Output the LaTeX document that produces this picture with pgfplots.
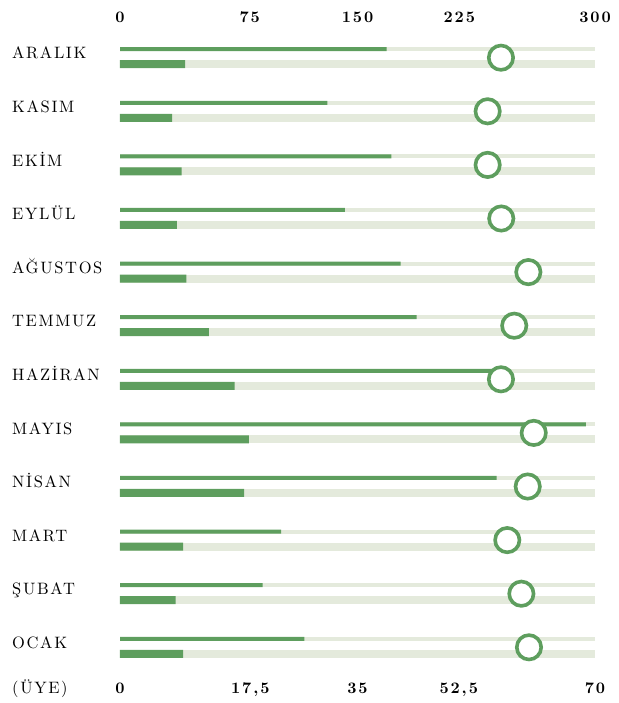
\documentclass[border=0pt]{standalone}
\usepackage{fontspec}
\usepackage{pgfplots}
\usepackage{pgfplotstable}
\pgfplotsset{compat=1.18}

\definecolor{grn}{HTML}{5E9E5E}
\definecolor{track}{HTML}{E4EADC}

\newfontfamily\labfam{lmroman10-regular.otf}[LetterSpace=10]
\newfontfamily\tickfam{lmroman10-bold.otf}[LetterSpace=12]
\newcommand\labfont{\labfam\fontsize{16.5}{19}\selectfont}
\newcommand\tickfont{\tickfam\fontsize{16}{19}\selectfont}

% row 0 = Aralik (top) ... row 11 = Ocak (bottom)
\pgfplotstableread{
row thin  thick circ
0   168.4 9.6   240.6
1   130.9 7.7   232.2
2   171.4 9.1   232.2
3   142.1 8.4   240.8
4   177.3 9.8   257.9
5   187.4 13.1  249.0
6   238.0 16.9  240.6
7   294.3 19.0  261.3
8   237.9 18.3  257.5
9   101.7 9.3   244.6
10  90.1  8.2   253.5
11  116.4 9.3   258.3
}\data

\pgfplotsset{rowaxis/.style={
  width=475pt, height=643.2pt, scale only axis, at={(0,0)}, anchor=south west,
  ymin=-0.5, ymax=11.5, y dir=reverse, clip=false,
  axis line style={draw=none}, major tick length=0pt,
  ymajorgrids,
  xticklabel style={anchor=base, inner sep=0pt, font=\tickfont},
}}

\begin{document}
\begin{tikzpicture}
\useasboundingbox (-120pt,-28.9pt) rectangle (498pt,674.1pt);

% bottom scale 0-70: thick bars
\begin{axis}[rowaxis, xmin=0, xmax=70,
  xtick={0,17.5,35,52.5,70},
  xticklabels={0,{\hspace*{23pt}17,5},35,{\hspace*{-35pt}52,5},70},
  xticklabel style={yshift=-19pt},
  ytick={0.121,1.121,...,11.121},
  yticklabels={ARALIK,KASIM,EKİM,EYLÜL,AĞUSTOS,TEMMUZ,HAZİRAN,MAYIS,NİSAN,MART,ŞUBAT,OCAK},
  yticklabel style={anchor=base west, inner sep=0pt, xshift=-108pt, yshift=5.2pt, font=\labfont},
  grid style={track, line width=8pt}]
\addplot[xbar, bar width=8pt, bar shift=0pt, fill=grn, draw=none]
  table[x=thick, y expr=\thisrow{row}+0.121] {\data};
\end{axis}

% top scale 0-300: thin bars and circles
\begin{axis}[rowaxis, xmin=0, xmax=300,
  xtick={0,75,150,225,300},
  xticklabels={0,\hspace*{22pt}75,150,\hspace*{-34pt}225,300},
  xticklabel pos=upper,
  xticklabel style={yshift=8pt},
  ytick={-0.159,0.841,...,10.841}, yticklabels={},
  grid style={track, line width=4pt}]
\addplot[xbar, bar width=4pt, bar shift=0pt, fill=grn, draw=none]
  table[x=thin, y expr=\thisrow{row}-0.159] {\data};
\addplot[only marks, mark=*, mark size=12.2pt,
  mark options={draw=grn, fill=white, line width=3.6pt}]
  table[x=circ, y=row] {\data};
\end{axis}

\node[anchor=base west, inner sep=0pt, font=\labfont] at (-108pt,-19pt) {(ÜYE)};
\end{tikzpicture}
\end{document}
